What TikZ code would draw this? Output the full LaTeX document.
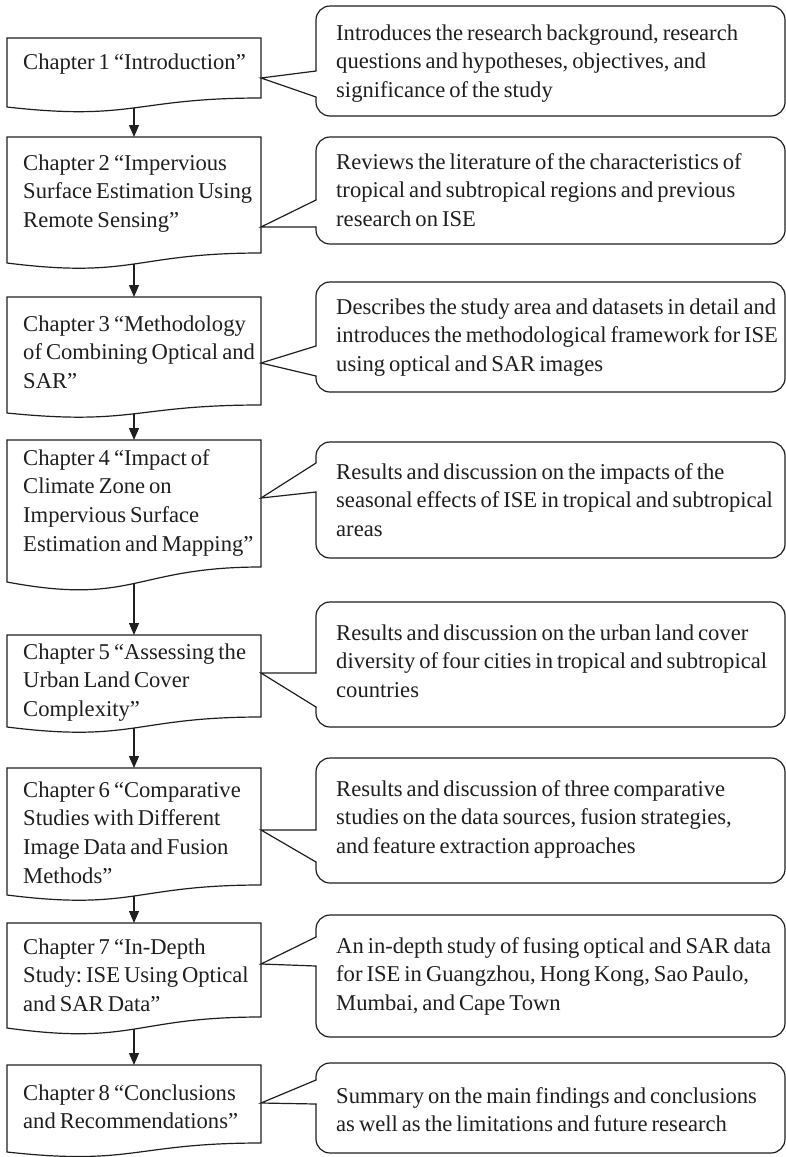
\documentclass[tikz,border=0pt]{standalone}
\usepackage{fontspec}
\setmainfont{Liberation Serif}
\usetikzlibrary{arrows.meta}
\definecolor{ink}{gray}{0.12}
\frenchspacing
\newcommand\diagfont{\fontsize{22.6}{28.8}\selectfont\frenchspacing}
\newcommand\tightspace{\spaceskip=4pt plus 1pt minus 1pt\xspaceskip=4pt plus 1pt minus 1pt\relax}
\tikzset{
  outline/.style={draw=ink, line width=1.2pt},
  chaptext/.style={anchor=base west, inner sep=0pt, text width=300pt, align=left,
    font=\diagfont, text=ink},
  desctext/.style={anchor=base west, inner sep=0pt, text width=500pt, align=left,
    font=\diagfont, text=ink},
  flowarrow/.style={draw=ink, line width=1.2pt, -{Triangle[length=12pt,width=10pt]}},
}
% #1 name, #2 top, #3 right-end y, #4 left-end y, #5 control y, #6 baseline, #7 tip y, #8 text
\newcommand\chapbox[8]{%
  \draw[outline, line join=miter] (261,#3) -- (261,#2) -- (7,#2) -- (7,#4)
    .. controls (134,#5) and (134,#3) .. (261,#3) -- cycle;
  \coordinate (#1top) at (134,#2);
  \coordinate (#1bot) at (134,{0.5*#3+0.375*#5+0.125*#4});
  \coordinate (#1tip) at (261,#7);
  \node[chaptext] (#1) at (23,#6) {\tightspace #8};
}
% #1 name, #2 top, #3 bottom, #4 tip coordinate, #5 upper wedge, #6 lower wedge, #7 baseline, #8 text
\newcommand\descbox[8]{%
  \draw[outline, rounded corners=14pt, line cap=round]
    (316,#5) -- (316,#2) -- (785,#2) -- (785,#3) -- (316,#3) -- (316,#6);
  \draw[outline, line cap=round, line join=miter] (316,#5) -- (#4) -- (316,#6);
  \node[desctext] (#1) at (336,#7) {\tightspace #8};
}
\begin{document}
\begin{tikzpicture}[x=1pt,y=-1pt]
\useasboundingbox (0,0) rectangle (786,1157);
\fill[white] (0,0) rectangle (786,1157);

\chapbox{B1}{38}{98}{107}{121.4}{69}{78}{Chapter 1 “Introduction”}
\chapbox{B2}{137}{253}{263}{279}{170}{227}{Chapter 2 “Impervious\\Surface Estimation Using\\Remote Sensing”}
\chapbox{B3}{297}{405}{413}{425.8}{331}{363}{Chapter 3 “Methodology\\of Combining Optical and\\SAR”}
\chapbox{B4}{440}{567}{582}{606}{465}{498}{Chapter 4 “Impact of\\Climate Zone on\\Impervious Surface\\Estimation and Mapping”}
\chapbox{B5}{635}{717}{727}{743}{659}{673}{Chapter 5 “Assessing the\\Urban Land Cover\\Complexity”}
\chapbox{B6}{768}{885}{895}{911}{797}{830}{Chapter 6 “Comparative\\Studies with Different\\Image Data and Fusion\\Methods”}
\chapbox{B7}{923}{1017}{1028}{1045.6}{954}{964}{Chapter 7 “In-Depth\\Study: ISE Using Optical\\and SAR Data”}
\chapbox{B8}{1065}{1143}{1152}{1166}{1100}{1103}{Chapter 8 “Conclusions\\and Recommendations”}

\descbox{C1}{6}{116}{B1tip}{71}{97}{40}{Introduces the research background, research\\questions and hypotheses, objectives, and\\significance of the study}
\descbox{C2}{137}{244}{B2tip}{200}{227}{169}{Reviews the literature of the characteristics of\\tropical and subtropical regions and previous\\research on ISE}
\descbox{C3}{282}{392}{B3tip}{346}{376}{314}{Describes the study area and datasets in detail and\\introduces the methodological framework for ISE\\using optical and SAR images}
\descbox{C4}{442}{558}{B4tip}{463}{492}{479}{Results and discussion on the impacts of the\\seasonal effects of ISE in tropical and subtropical\\areas}
\descbox{C5}{602}{727}{B5tip}{673}{707}{640}{Results and discussion on the urban land cover\\diversity of four cities in tropical and subtropical\\countries}
\descbox{C6}{758}{883}{B6tip}{830}{862}{796}{Results and discussion of three comparative\\studies on the data sources, fusion strategies,\\and feature extraction approaches}
\descbox{C7}{915}{1037}{B7tip}{937}{966}{953}{An in-depth study of fusing optical and SAR data\\for ISE in Guangzhou, Hong Kong, Sao Paulo,\\Mumbai, and Cape Town}
\descbox{C8}{1063}{1153}{B8tip}{1080}{1104}{1103}{Summary on the main findings and conclusions\\as well as the limitations and future research}

\draw[flowarrow] (B1bot) -- (B2top);
\draw[flowarrow] (B2bot) -- (B3top);
\draw[flowarrow] (B3bot) -- (B4top);
\draw[flowarrow] (B4bot) -- (B5top);
\draw[flowarrow] (B5bot) -- (B6top);
\draw[flowarrow] (B6bot) -- (B7top);
\draw[flowarrow] (B7bot) -- (B8top);
\end{tikzpicture}
\end{document}
